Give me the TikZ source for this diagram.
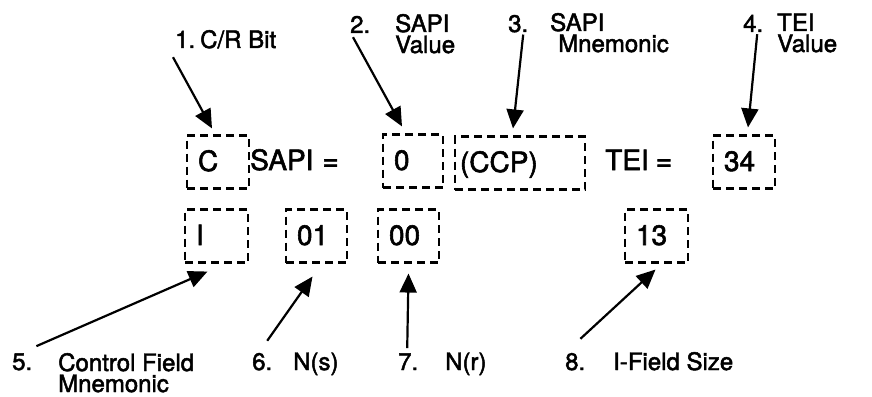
\documentclass[tikz,border=0pt]{standalone}
\usepackage{fontspec}
\setmainfont{TeX Gyre Heros}[FakeBold=2]
\usetikzlibrary{calc,arrows.meta}

\begin{document}
\begin{tikzpicture}[x=1pt,y=-1pt,
  fld/.style={draw,line width=2.1pt,dash pattern=on 8pt off 5pt,minimum height=53pt,
    inner xsep=11pt,inner ysep=0pt,align=left,text height=19pt,text depth=1pt,
    font=\fontsize{28}{28}\selectfont},
  lbl/.style={anchor=base west,inner sep=0pt,align=left,font=\fontsize{24}{21}\selectfont},
  ptr/.style={line width=2.2pt,-{Triangle[length=19pt,width=17pt]}}]
  \useasboundingbox (0,0) rectangle (872,396);
  % field boxes
  \node[fld,text width=40pt] (bc) at (218,162) {C};
  \node[fld,text width=38pt] (bo) at (413,161) {0};
  \node[fld,text width=120pt,inner xsep=5pt] (bccp) at (520,163) {(CCP)};
  \node[fld,text width=40pt] (bt) at (744,162) {34};
  \node[fld,text width=41pt] (bi) at (216.5,236) {I};
  \node[fld,text width=39pt] (b01) at (316.5,236) {01};
  \node[fld,text width=39pt] (b00) at (408.5,236) {00};
  \node[fld,text width=41pt] (b13) at (656.5,236) {13};
  \node[lbl,font=\fontsize{28}{28}\selectfont] (sapi) at (250,170) {SAPI\hspace{9pt}=};
  \node[lbl,font=\fontsize{28}{28}\selectfont] (tei) at (605,170) {TEI\hspace{7pt}=};
  % numbered labels (two-line ones sit on their last baseline)
  \node[lbl] (n1) at (175,48) {1.};
  \node[lbl] (l1) at (200,48) {C/R Bit};
  \node[lbl] (n2) at (350,33) {2.};
  \node[lbl] (l2) at (395,53) {SAPI\\Value};
  \node[lbl] (n3) at (508,32) {3.};
  \node[lbl] (l3) at (550,52) {SAPI\\\hspace*{8pt}Mnemonic};
  \node[lbl] (n4) at (743,32) {4.};
  \node[lbl] (l4) at (777,52) {TEI\\Value};
  \node[lbl] (n5) at (12,370) {5.};
  \node[lbl] (l5) at (58,392) {Control Field\\Mnemonic};
  \node[lbl] (n6) at (252,370) {6.};
  \node[lbl] (l6) at (293,370) {N(s)};
  \node[lbl] (n7) at (398,370) {7.};
  \node[lbl] (l7) at (445,370) {N(r)};
  \node[lbl] (n8) at (565,370) {8.};
  \node[lbl] (l8) at (613,370) {I-Field Size};
  % pointers
  \draw[ptr] ($(n1.south west)+(-2,9)$) -- ($(bc.north)+(-6,-6)$);
  \draw[ptr] ($(n2.south west)+(3,4)$) -- ($(bo.north)+(-11,-7)$);
  \draw[ptr] ($(n3.south)+(5,2)$) -- ($(bccp.north)+(-7,-7)$);
  \draw[ptr] ($(n4.south)+(4,2)$) -- ($(bt.north)+(4,-7)$);
  \draw[ptr] ($(n5.north east)+(4,-7)$) -- ($(bi.south)+(-9,8)$);
  \draw[ptr] ($(n6.north)+(5,-12)$) -- ($(b01.south)+(-4,13)$);
  \draw[ptr] ($(n7.north)+(-1,-5)$) -- ($(b00.south)+(0,10)$);
  \draw[ptr] ($(n8.north east)+(-5,-14)$) -- ($(b13.south)+(-1,6)$);
\end{tikzpicture}
\end{document}
